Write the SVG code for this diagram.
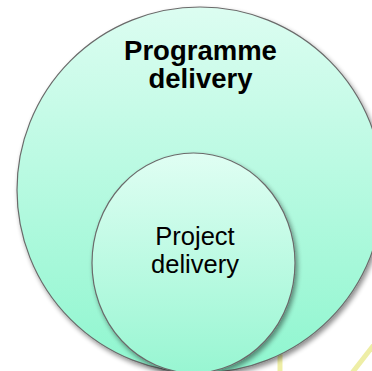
<svg xmlns="http://www.w3.org/2000/svg" width="372" height="371" viewBox="0 0 372 371">
<defs>
<linearGradient id="gOuter" x1="0" y1="0" x2="0" y2="1">
<stop offset="0" stop-color="#dcfdf1"/>
<stop offset="1" stop-color="#8ff6cf"/>
</linearGradient>
<linearGradient id="gInner" x1="0" y1="0" x2="0" y2="1">
<stop offset="0" stop-color="#e0fef3"/>
<stop offset="1" stop-color="#98f6d2"/>
</linearGradient>
<filter id="shadow" x="-10%" y="-10%" width="125%" height="125%">
<feGaussianBlur in="SourceAlpha" stdDeviation="2.5"/>
<feOffset dx="2" dy="3" result="b"/>
<feComponentTransfer><feFuncA type="linear" slope="0.45"/></feComponentTransfer>
<feMerge><feMergeNode/><feMergeNode in="SourceGraphic"/></feMerge>
</filter>
<style>
.circle{stroke:#6a6a6a;stroke-width:1.2}
.t{font-family:"Liberation Sans",Arial,sans-serif;text-anchor:middle;fill:#000}
.bold{font-weight:bold;font-size:27.5px}
.reg{font-size:25.5px}
</style>
</defs>
<g id="decor">
<line x1="280" y1="330" x2="280" y2="371" stroke="#eeeea6" stroke-width="5"/>
<line x1="390" y1="324" x2="352" y2="373" stroke="#eeeea6" stroke-width="5"/>
</g>
<g id="programme">
<circle class="circle" cx="200" cy="190" r="183" fill="url(#gOuter)" filter="url(#shadow)"/>
<text class="t bold" x="200.5" y="60">Programme</text>
<text class="t bold" x="200.5" y="88">delivery</text>
</g>
<g id="project">
<ellipse class="circle" cx="193.5" cy="263" rx="101.5" ry="110" fill="url(#gInner)" filter="url(#shadow)"/>
<text class="t reg" x="195" y="244.5">Project</text>
<text class="t reg" x="195" y="272.5">delivery</text>
</g>
<g id="connectors"/>
</svg>
